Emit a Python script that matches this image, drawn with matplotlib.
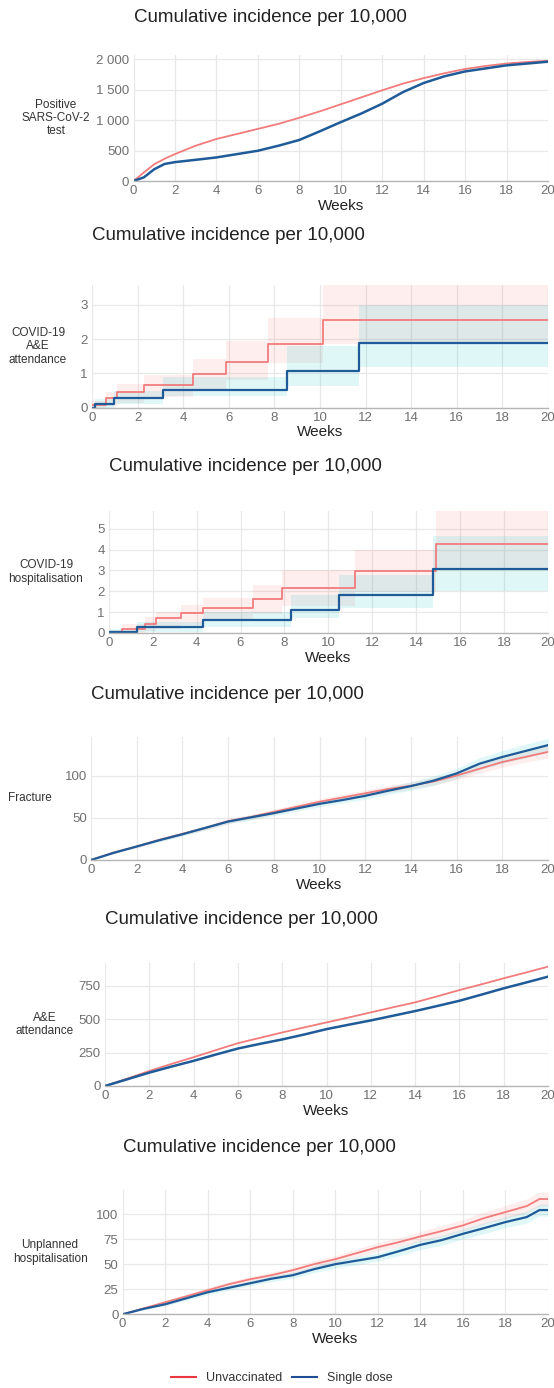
import matplotlib
matplotlib.use('Agg')
import matplotlib.pyplot as plt
from matplotlib.lines import Line2D

plt.rcParams['font.family'] = ['Liberation Sans', 'DejaVu Sans']

W, H = 554, 1388

# ---------------- data ----------------
title_text = 'Cumulative incidence per 10,000'
series_names = ['Unvaccinated', 'Single dose']
week_ticks = [0, 2, 4, 6, 8, 10, 12, 14, 16, 18, 20]

# Panel 1: Positive SARS-CoV-2 test
p1_label = 'Positive\nSARS-CoV-2\ntest'
p1_weeks = [0, 0.5, 1, 1.5, 2, 3, 4, 5, 6, 7, 8, 9, 10, 11, 12, 13, 14, 15, 16, 17, 18, 19, 20]
p1_unvacc = [0, 140, 276, 365, 442, 580, 690, 773, 856, 939, 1039, 1145, 1260, 1375, 1490, 1600, 1690, 1770, 1840, 1890, 1930, 1955, 1975]
p1_single = [0, 60, 193, 280, 310, 348, 387, 442, 497, 580, 674, 818, 967, 1110, 1270, 1460, 1610, 1720, 1800, 1850, 1900, 1930, 1960]
p1_yticks = [0, 500, 1000, 1500, 2000]
p1_yticklabels = ['0', '500', '1 000', '1 500', '2 000']

# Panel 2: COVID-19 A&E attendance (step functions)
p2_label = 'COVID-19\nA&E\nattendance'
p2_unvacc_t = [0, 0.6, 1.1, 2.3, 4.45, 5.87, 7.74, 10.15, 20]
p2_unvacc = [0.08, 0.27, 0.45, 0.65, 0.97, 1.33, 1.86, 2.55, 2.55]
p2_unvacc_lo = [0.0, 0.05, 0.15, 0.3, 0.5, 0.8, 1.3, 1.85, 1.85]
p2_unvacc_hi = [0.2, 0.46, 0.68, 0.96, 1.43, 1.96, 2.62, 3.6, 3.6]
p2_single_t = [0, 0.15, 0.97, 3.1, 8.55, 11.7, 20]
p2_single = [0.0, 0.1, 0.27, 0.53, 1.08, 1.9, 1.9]
p2_single_lo = [0.0, 0.0, 0.1, 0.33, 0.64, 1.2, 1.2]
p2_single_hi = [0.05, 0.25, 0.5, 0.9, 1.79, 3.0, 3.0]
p2_yticks = [0, 1, 2, 3]

# Panel 3: COVID-19 hospitalisation (step functions)
p3_label = 'COVID-19\nhospitalisation'
p3_unvacc_t = [0, 0.6, 1.65, 2.13, 3.27, 4.3, 6.58, 7.87, 11.19, 14.88, 20]
p3_unvacc = [0.05, 0.2, 0.45, 0.7, 0.95, 1.22, 1.65, 2.17, 2.95, 4.25, 4.25]
p3_unvacc_lo = [0.0, 0.02, 0.1, 0.2, 0.4, 0.6, 0.9, 1.3, 1.95, 3.0, 3.0]
p3_unvacc_hi = [0.15, 0.45, 0.75, 1.0, 1.35, 1.7, 2.3, 3.0, 4.0, 5.9, 5.9]
p3_single_t = [0, 0.07, 1.3, 4.3, 8.3, 10.46, 14.75, 20]
p3_single = [0.0, 0.07, 0.27, 0.6, 1.12, 1.83, 3.08, 3.08]
p3_single_lo = [0.0, 0.0, 0.05, 0.3, 0.7, 1.2, 2.0, 2.0]
p3_single_hi = [0.05, 0.2, 0.55, 1.0, 1.8, 2.8, 4.65, 4.65]
p3_yticks = [0, 1, 2, 3, 4, 5]

# Panel 4: Fracture
p4_label = 'Fracture'
p4_weeks = [0, 1, 2, 3, 4, 5, 6, 7, 8, 9, 10, 11, 12, 13, 14, 15, 16, 17, 18, 19, 20]
p4_unvacc = [0, 9, 16, 24, 31, 38, 46, 51, 57, 63, 69, 74, 79, 84, 88, 93, 100, 108, 116, 122, 128]
p4_unvacc_lo = [0, 8, 14.5, 22, 29, 35.5, 43, 48, 54, 60, 65.5, 70.5, 75, 80, 84, 88.5, 95, 102.5, 110, 115.5, 121]
p4_unvacc_hi = [0.5, 10, 17.5, 26, 33, 40.5, 49, 54, 60, 66.5, 72.5, 77.5, 83, 88, 92.5, 97.5, 105, 113.5, 122, 128.5, 135]
p4_single = [0, 8.5, 16, 23.5, 30.5, 38, 45.5, 50.5, 55.5, 61, 66.5, 71, 76, 82, 87.5, 94, 102.5, 114, 122, 129, 136]
p4_single_lo = [0, 7.5, 14.5, 21.5, 28.5, 35.5, 43, 47.5, 52.5, 57.5, 63, 67.5, 72, 77.5, 82.5, 88.5, 96.5, 107, 114.5, 121, 128]
p4_single_hi = [0.5, 9.5, 17.5, 25.5, 32.5, 40.5, 48, 53.5, 58.5, 64.5, 70, 74.5, 80, 86.5, 92.5, 99.5, 108.5, 121, 129.5, 137, 144]
p4_yticks = [0, 50, 100]

# Panel 5: A&E attendance
p5_label = 'A&E\nattendance'
p5_weeks = [0, 1, 2, 3, 4, 5, 6, 7, 8, 9, 10, 11, 12, 13, 14, 15, 16, 17, 18, 19, 20]
p5_unvacc = [0, 55, 112, 165, 215, 268, 320, 360, 400, 438, 475, 512, 550, 588, 625, 670, 717, 760, 805, 848, 892]
p5_single = [0, 50, 100, 145, 188, 235, 280, 315, 348, 385, 425, 458, 490, 525, 560, 598, 637, 683, 730, 773, 817]
p5_yticks = [0, 250, 500, 750]

# Panel 6: Unplanned hospitalisation
p6_label = 'Unplanned\nhospitalisation'
p6_weeks = [0, 1, 2, 3, 4, 5, 6, 7, 8, 9, 10, 11, 12, 13, 14, 15, 16, 17, 18, 19, 19.6, 20]
p6_unvacc = [0, 6, 12, 18, 24, 30, 35, 39, 44, 50, 55, 61, 67, 72, 77.7, 83, 88.7, 96, 102, 108, 115, 115]
p6_unvacc_lo = [0, 5, 10.5, 16, 22, 27.5, 32.5, 36, 41, 46.5, 51.5, 57, 62.5, 67.5, 72.5, 77.5, 83, 90, 95.5, 101, 108, 108]
p6_unvacc_hi = [0.5, 7, 13.5, 20, 26.5, 32.5, 37.5, 42, 47, 53.5, 58.5, 65, 71.5, 76.5, 82.5, 88.5, 94.5, 102, 108.5, 115, 122, 122]
p6_single = [0, 5.5, 10, 16, 22, 26.5, 31, 35.5, 39, 45, 50, 53.5, 57, 63, 69.3, 74, 80.3, 86, 92, 97, 104, 104]
p6_single_lo = [0, 4.5, 8.5, 14, 19.5, 24, 28.5, 32.5, 36, 41.5, 46, 49.5, 53, 58.5, 64.5, 69, 75, 80.5, 86.5, 91, 98, 98]
p6_single_hi = [0.5, 6.5, 11.5, 18, 24.5, 29, 33.5, 38.5, 42, 48.5, 54, 57.5, 61, 67.5, 74, 79, 85.5, 91.5, 97.5, 103, 110, 110]
p6_yticks = [0, 25, 50, 75, 100]

# ---------------- style ----------------
RED = '#f27b7b'
BLUE = '#1f5b98'
RED_FILL = '#F8766D'
BLUE_FILL = '#00BFC4'
FILL_A = 0.12

fig = plt.figure(figsize=(W / 100, H / 100), dpi=100)


def make_ax(left, right, top, bottom):
    return fig.add_axes([left / W, 1 - bottom / H, (right - left) / W, (bottom - top) / H])


def style(ax, ylim, yticks, ylabel, label_x, left, right, title_y, yticklabels=None):
    ax.set_xlim(0, 20)
    ax.set_ylim(*ylim)
    ax.set_xticks(week_ticks)
    ax.set_yticks(yticks)
    if yticklabels is not None:
        ax.set_yticklabels(yticklabels)
    ax.grid(True, color='#e8e8e8', lw=0.9)
    ax.set_axisbelow(True)
    for s in ['top', 'right', 'left']:
        ax.spines[s].set_visible(False)
    ax.spines['bottom'].set_color('#b5b5b5')
    ax.spines['bottom'].set_linewidth(1.0)
    ax.tick_params(length=0, labelsize=9.5, labelcolor='#707070', pad=3)
    ax.set_xlabel('Weeks', fontsize=11, color='#222222', labelpad=1)
    ax.set_ylabel(ylabel, rotation=0, ha='center', va='center', fontsize=8.5,
                  color='#333333', linespacing=1.15)
    ax.yaxis.set_label_coords((label_x - left) / (right - left), 0.5)
    fig.text(left / W, 1 - title_y / H, title_text, ha='left', va='center',
             fontsize=13.5, color='#222222')


R = 548

# Panel 1
ax1 = make_ax(133.5, R, 55, 181)
ax1.plot(p1_weeks, p1_unvacc, color=RED, lw=1.3)
ax1.plot(p1_weeks, p1_single, color=BLUE, lw=1.8)
style(ax1, (0, 2070), p1_yticks, p1_label, 56, 133.5, R, 18, p1_yticklabels)

# Panel 2
ax2 = make_ax(92, R, 285, 407.7)
ax2.fill_between(p2_unvacc_t, p2_unvacc_lo, p2_unvacc_hi, step='post', color=RED_FILL, alpha=FILL_A, lw=0)
ax2.fill_between(p2_single_t, p2_single_lo, p2_single_hi, step='post', color=BLUE_FILL, alpha=FILL_A, lw=0)
ax2.step(p2_unvacc_t, p2_unvacc, where='post', color=RED, lw=1.3)
ax2.step(p2_single_t, p2_single, where='post', color=BLUE, lw=1.6)
style(ax2, (0, 3.58), p2_yticks, p2_label, 38, 92, R, 235)

# Panel 3
ax3 = make_ax(108.8, R, 511, 633)
ax3.fill_between(p3_unvacc_t, p3_unvacc_lo, p3_unvacc_hi, step='post', color=RED_FILL, alpha=FILL_A, lw=0)
ax3.fill_between(p3_single_t, p3_single_lo, p3_single_hi, step='post', color=BLUE_FILL, alpha=FILL_A, lw=0)
ax3.step(p3_unvacc_t, p3_unvacc, where='post', color=RED, lw=1.3)
ax3.step(p3_single_t, p3_single, where='post', color=BLUE, lw=1.6)
style(ax3, (0, 5.85), p3_yticks, p3_label, 46, 108.8, R, 466.7)

# Panel 4
ax4 = make_ax(91, R, 736.7, 860)
ax4.fill_between(p4_weeks, p4_unvacc_lo, p4_unvacc_hi, color=RED_FILL, alpha=FILL_A, lw=0)
ax4.fill_between(p4_weeks, p4_single_lo, p4_single_hi, color=BLUE_FILL, alpha=FILL_A, lw=0)
ax4.plot(p4_weeks, p4_unvacc, color=RED, lw=1.3)
ax4.plot(p4_weeks, p4_single, color=BLUE, lw=1.6)
style(ax4, (0, 146), p4_yticks, p4_label, 30, 91, R, 695)

# Panel 5
ax5 = make_ax(105, R, 963.3, 1086)
ax5.plot(p5_weeks, p5_unvacc, color=RED, lw=1.3)
ax5.plot(p5_weeks, p5_single, color=BLUE, lw=1.8)
style(ax5, (0, 917), p5_yticks, p5_label, 45, 105, R, 920)

# Panel 6
ax6 = make_ax(122.6, R, 1190, 1314.3)
ax6.fill_between(p6_weeks, p6_unvacc_lo, p6_unvacc_hi, color=RED_FILL, alpha=FILL_A, lw=0)
ax6.fill_between(p6_weeks, p6_single_lo, p6_single_hi, color=BLUE_FILL, alpha=FILL_A, lw=0)
ax6.plot(p6_weeks, p6_unvacc, color=RED, lw=1.3)
ax6.plot(p6_weeks, p6_single, color=BLUE, lw=1.6)
style(ax6, (0, 124), p6_yticks, p6_label, 50, 122.6, R, 1148)

handles = [Line2D([], [], color='#e8383d', lw=1.5), Line2D([], [], color='#1f4e96', lw=1.5)]
fig.legend(handles, series_names, loc='center', bbox_to_anchor=(282 / W, 1 - 1378 / H),
           ncol=2, frameon=False, fontsize=9, handlelength=2.0, columnspacing=0.8,
           handletextpad=0.8, labelcolor='#333333')

fig.savefig('out.png', dpi=100)
